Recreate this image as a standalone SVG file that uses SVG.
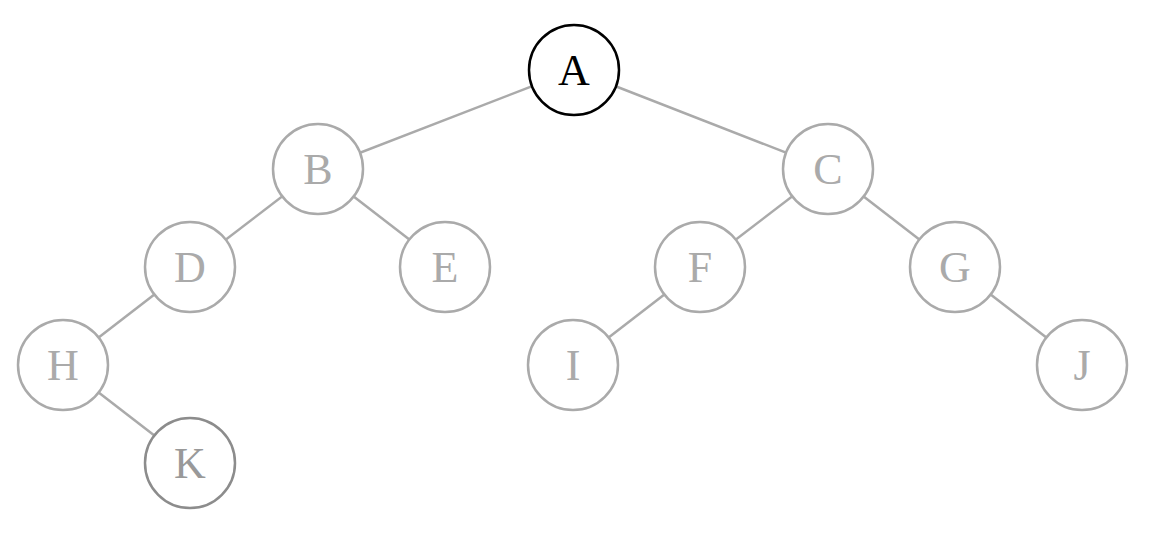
<svg xmlns="http://www.w3.org/2000/svg" width="1152" height="535" viewBox="0 0 1152 535">
<style>
.n circle{fill:#fff;stroke:#aaa;stroke-width:2.5}
.n text{font-family:"Liberation Serif",serif;font-size:44px;fill:#aaa;text-anchor:middle;dominant-baseline:central}
#nA circle{stroke:#000}
#nA text{fill:#000}
#nK circle{stroke:#8c8c8c}
#nK text{fill:#999}
.e line{stroke:#aaa;stroke-width:2.5}
</style>
<rect width="1152" height="535" fill="#fff"/>
<g class="e" id="edges">
<line x1="574" y1="70" x2="318" y2="169"/>
<line x1="574" y1="70" x2="828" y2="169"/>
<line x1="318" y1="169" x2="190" y2="267"/>
<line x1="318" y1="169" x2="445" y2="267"/>
<line x1="828" y1="169" x2="700" y2="267"/>
<line x1="828" y1="169" x2="955" y2="267"/>
<line x1="190" y1="267" x2="63" y2="365"/>
<line x1="700" y1="267" x2="573" y2="365"/>
<line x1="955" y1="267" x2="1082" y2="365"/>
<line x1="63" y1="365" x2="190" y2="463"/>
</g>
<g class="n" id="nA"><circle cx="574" cy="70" r="45"/><text x="574" y="70">A</text></g>
<g class="n" id="nB"><circle cx="318" cy="169" r="45"/><text x="318" y="169">B</text></g>
<g class="n" id="nC"><circle cx="828" cy="169" r="45"/><text x="828" y="169">C</text></g>
<g class="n" id="nD"><circle cx="190" cy="267" r="45"/><text x="190" y="267">D</text></g>
<g class="n" id="nE"><circle cx="445" cy="267" r="45"/><text x="445" y="267">E</text></g>
<g class="n" id="nF"><circle cx="700" cy="267" r="45"/><text x="700" y="267">F</text></g>
<g class="n" id="nG"><circle cx="955" cy="267" r="45"/><text x="955" y="267">G</text></g>
<g class="n" id="nH"><circle cx="63" cy="365" r="45"/><text x="63" y="365">H</text></g>
<g class="n" id="nI"><circle cx="573" cy="365" r="45"/><text x="573" y="365">I</text></g>
<g class="n" id="nJ"><circle cx="1082" cy="365" r="45"/><text x="1082" y="365">J</text></g>
<g class="n" id="nK"><circle cx="190" cy="463" r="45"/><text x="190" y="463">K</text></g>
</svg>
